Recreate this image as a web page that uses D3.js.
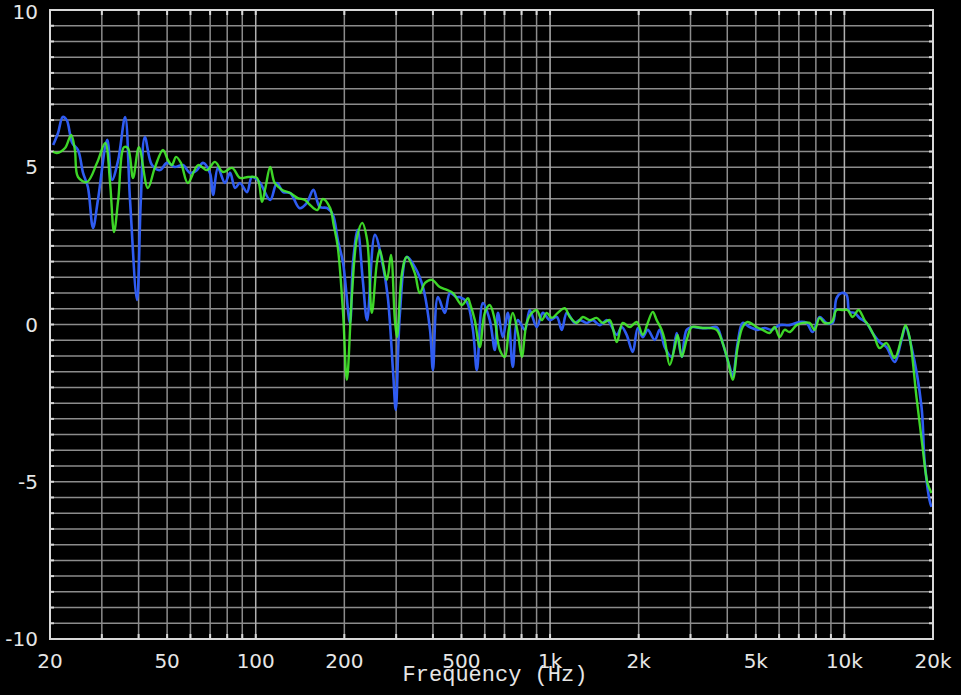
<!DOCTYPE html>
<html>
<head>
<meta charset="utf-8">
<script src="https://cdn.jsdelivr.net/npm/d3@7"></script>
<style>
  html, body { margin: 0; padding: 0; background: #000; }
  svg { display: block; }
</style>
</head>
<body>
<svg id="chart" width="961" height="695"></svg>
<script>
// frequency response, two measurements
var xTickLabels = ['20', '50', '100', '200', '500', '1k', '2k', '5k', '10k', '20k'],
  xTickValues = [20, 50, 100, 200, 500, 1000, 2000, 5000, 10000, 20000],
  yTickValues = [10, 5, 0, -5, -10];

// [Hz, dB]
var blueCurve = [[20.5,5.71],[21.3,6.09],[22.1,6.60],[22.8,6.50],[23.8,5.77],[24.9,5.55],[25.9,4.82],[26.9,4.37],[28.0,3.07],[29.1,3.96],[31.3,5.87],[32.5,4.60],[34.1,5.23],[36.0,6.60],[37.4,3.96],[39.5,0.78],[40.7,3.96],[42.0,5.96],[44.4,5.07],[47.3,4.91],[49.9,5.14],[53.1,5.01],[56.6,5.07],[59.8,4.82],[63.1,4.91],[66.2,5.14],[69.9,4.82],[71.6,4.12],[74.4,4.98],[78.6,4.50],[81.8,4.82],[85.1,4.34],[88.4,4.50],[93.4,4.21],[97.1,4.69],[103,4.53],[112,3.96],[118,4.50],[124,4.21],[131,4.18],[141,3.70],[149,3.86],[157,4.28],[165,3.74],[175,3.70],[183,3.48],[190,2.69],[198,1.96],[209,0.05],[214,1.96],[222,3.01],[231,1.42],[239,0.14],[254,2.85],[271,1.83],[281,0.87],[293,-1.54],[299,-2.72],[309,0.37],[326,2.15],[347,1.83],[370,1.19],[391,-0.17],[400,-1.45],[416,0.87],[439,0.37],[457,1.00],[482,0.87],[494,0.87],[521,0.72],[547,-0.17],[564,-1.45],[591,0.68],[624,0.14],[649,-0.81],[665,0.37],[691,-0.40],[719,0.37],[747,-1.35],[777,0.14],[821,-0.17],[853,0.46],[901,-0.08],[945,0.37],[998,0.14],[1054,0.24],[1096,-0.17],[1140,0.37],[1214,0.05],[1262,0.14],[1332,0.05],[1397,0.14],[1475,-0.02],[1558,0.14],[1595,0.05],[1685,-0.33],[1752,-0.08],[1821,-0.33],[1910,-0.87],[1986,-0.11],[2065,-0.40],[2147,-0.17],[2268,-0.49],[2358,-0.17],[2452,-0.72],[2590,-1.03],[2693,-0.27],[2801,-1.03],[2911,-0.17],[3053,-0.08],[3224,-0.11],[3486,-0.11],[3681,-0.08],[3859,-0.59],[4076,-1.35],[4174,-1.67],[4338,-0.59],[4513,0.05],[4765,-0.08],[5073,-0.17],[5359,-0.11],[5660,-0.17],[6025,-0.02],[6515,-0.02],[7044,0.08],[7438,0.05],[7800,-0.24],[8236,0.24],[8697,0.05],[9120,0.05],[9404,0.84],[9782,1.00],[10169,0.94],[10413,0.40],[10829,0.37],[11260,0.21],[11890,0.05],[12467,-0.27],[13165,-0.56],[13901,-0.72],[14803,-1.19],[15636,-0.49],[16132,-0.08],[16907,-0.72],[18281,-2.62],[18716,-4.31],[19460,-5.58],[19767,-5.80]];

var greenCurve = [[20.5,5.49],[21.1,5.45],[22.5,5.61],[23.6,6.03],[24.3,5.55],[24.9,4.69],[26.7,4.53],[28.9,5.14],[30.8,5.77],[32.0,4.50],[33.0,2.94],[34.1,3.96],[35.7,5.64],[36.8,5.61],[38.3,4.66],[40.1,5.64],[43.0,4.34],[45.4,4.98],[48.4,5.55],[50.3,5.23],[51.9,5.07],[53.6,5.33],[55.7,5.14],[58.8,4.50],[63.7,5.07],[68.3,4.91],[72.7,5.17],[77.4,4.85],[83.1,4.98],[88.4,4.66],[94.1,4.69],[101,4.66],[105,3.90],[108,4.37],[112,5.01],[116,4.50],[123,4.28],[131,4.18],[139,4.02],[147,3.96],[153,3.80],[162,3.64],[169,3.99],[179,3.70],[184,3.16],[190,2.46],[198,0.37],[204,-1.76],[212,0.87],[221,2.78],[230,3.23],[239,2.69],[248,0.37],[258,1.96],[264,2.37],[279,1.42],[288,2.21],[297,0.14],[302,-0.40],[314,1.64],[326,2.15],[347,1.64],[361,1.00],[376,1.32],[397,1.42],[422,1.19],[446,1.10],[468,1.00],[502,0.62],[526,0.84],[534,0.68],[555,0.14],[577,-0.72],[600,0.37],[624,0.62],[649,0.14],[675,-0.81],[702,-1.03],[724,-0.17],[747,0.37],[777,-0.27],[802,-1.03],[833,0.05],[867,0.37],[901,0.46],[937,0.14],[974,0.37],[1014,0.21],[1062,0.37],[1122,0.52],[1167,0.24],[1232,0.05],[1292,0.24],[1364,0.14],[1440,0.21],[1510,0.05],[1595,0.14],[1685,-0.56],[1766,0.05],[1865,-0.08],[1970,0.08],[2065,-0.33],[2147,0.05],[2233,0.40],[2303,0.14],[2395,-0.17],[2452,-0.49],[2550,-1.29],[2652,-0.72],[2714,-0.33],[2801,-1.03],[2911,-0.49],[3028,-0.08],[3148,-0.08],[3301,-0.11],[3486,-0.11],[3681,-0.17],[3859,-0.59],[4013,-1.13],[4174,-1.76],[4338,-0.72],[4513,-0.08],[4691,0.08],[5032,-0.08],[5277,-0.17],[5572,-0.27],[5794,-0.08],[6025,-0.40],[6265,-0.17],[6515,-0.24],[6879,-0.02],[7213,0.05],[7617,0.05],[7921,-0.17],[8236,0.21],[8565,0.05],[9047,0.08],[9404,0.46],[9861,0.46],[10251,0.46],[10663,0.24],[11172,0.46],[11708,0.14],[12175,-0.08],[12661,-0.40],[13165,-0.75],[13901,-0.59],[14803,-1.07],[15636,-0.43],[16132,-0.02],[16644,-0.40],[17575,-2.31],[18429,-3.90],[19157,-5.04],[19767,-5.36]];

var LEFT = 50, RIGHT = 933, TOP = 10, BOTTOM = 639,
  GRID_COLOR = '#8c8c8c',
  FRAME_COLOR = '#d8d8d8',
  TEXT_COLOR = '#e6e6e6';

var svg = d3.select('#chart');

var x = d3.scaleLog().domain([20, 20000]).range([LEFT, RIGHT]);
var y = d3.scaleLinear().domain([-10, 10]).range([BOTTOM, TOP]);

// gridline positions: 1..9 per decade, 0.5 dB steps
var xGrid = [];
[10, 100, 1000, 10000].forEach(function(dec) {
  for (var m = 1; m <= 9; m++) {
    var v = m * dec;
    if (v > 20 && v < 20000) xGrid.push(v);
  }
});
var yGrid = d3.range(-9.5, 10, 0.5);

var grid = svg.append('g').attr('id', 'grid');

grid.selectAll('line.h')
  .data(yGrid)
  .enter()
  .append('line')
  .attr('class', 'h')
  .attr('x1', LEFT).attr('x2', RIGHT)
  .attr('y1', function(d) { return y(d); })
  .attr('y2', function(d) { return y(d); })
  .attr('stroke', GRID_COLOR)
  .attr('stroke-width', 1.5);

grid.selectAll('line.v')
  .data(xGrid)
  .enter()
  .append('line')
  .attr('class', 'v')
  .attr('y1', TOP).attr('y2', BOTTOM)
  .attr('x1', function(d) { return x(d); })
  .attr('x2', function(d) { return x(d); })
  .attr('stroke', function(d) { return [100, 1000, 10000].indexOf(d) >= 0 ? '#b0b0b0' : GRID_COLOR; })
  .attr('stroke-width', 1.5);

// small ticks on the frame
var ticks = svg.append('g').attr('id', 'ticks');
ticks.selectAll('line.tt')
  .data(xGrid)
  .enter()
  .append('line')
  .attr('x1', function(d) { return x(d); })
  .attr('x2', function(d) { return x(d); })
  .attr('y1', TOP).attr('y2', TOP + 5)
  .attr('stroke', FRAME_COLOR).attr('stroke-width', 2);
ticks.selectAll('line.tb')
  .data(xGrid)
  .enter()
  .append('line')
  .attr('x1', function(d) { return x(d); })
  .attr('x2', function(d) { return x(d); })
  .attr('y1', BOTTOM - 5).attr('y2', BOTTOM)
  .attr('stroke', FRAME_COLOR).attr('stroke-width', 2);
ticks.selectAll('line.tl')
  .data(yGrid)
  .enter()
  .append('line')
  .attr('x1', LEFT).attr('x2', LEFT + 4)
  .attr('y1', function(d) { return y(d); })
  .attr('y2', function(d) { return y(d); })
  .attr('stroke', FRAME_COLOR).attr('stroke-width', 2);
ticks.selectAll('line.tr')
  .data(yGrid)
  .enter()
  .append('line')
  .attr('x1', RIGHT - 4).attr('x2', RIGHT)
  .attr('y1', function(d) { return y(d); })
  .attr('y2', function(d) { return y(d); })
  .attr('stroke', FRAME_COLOR).attr('stroke-width', 2);

// curves
var line = d3.line()
  .x(function(d) { return x(d[0]); })
  .y(function(d) { return y(d[1]); })
  .curve(d3.curveCatmullRom.alpha(0.5));

svg.append('defs').append('clipPath').attr('id', 'plotClip')
  .append('rect')
  .attr('x', LEFT).attr('y', TOP)
  .attr('width', RIGHT - LEFT).attr('height', BOTTOM - TOP);

var curves = svg.append('g').attr('clip-path', 'url(#plotClip)');

curves.append('path')
  .datum(blueCurve)
  .attr('d', line)
  .attr('fill', 'none')
  .attr('stroke', '#2f5cf2')
  .attr('stroke-width', 2.6)
  .attr('stroke-linejoin', 'round');

curves.append('path')
  .datum(greenCurve)
  .attr('d', line)
  .attr('fill', 'none')
  .attr('stroke', '#46f22c')
  .attr('stroke-width', 2.4)
  .attr('stroke-opacity', 0.88)
  .attr('stroke-linejoin', 'round');

// frame
svg.append('rect')
  .attr('x', LEFT).attr('y', TOP)
  .attr('width', RIGHT - LEFT).attr('height', BOTTOM - TOP)
  .attr('fill', 'none')
  .attr('stroke', FRAME_COLOR)
  .attr('stroke-width', 2);

// labels
svg.append('g')
  .selectAll('text')
  .data(yTickValues)
  .enter()
  .append('text')
  .attr('x', 38)
  .attr('y', function(d) { return d === 10 ? y(d) + 2 : y(d); })
  .attr('dy', '0.36em')
  .style('text-anchor', 'end')
  .style('font-family', 'DejaVu Sans, sans-serif')
  .style('font-size', '20px')
  .attr('fill', TEXT_COLOR)
  .text(function(d) { return d; });

svg.append('g')
  .selectAll('text')
  .data(xTickValues)
  .enter()
  .append('text')
  .attr('x', function(d) { return x(d); })
  .attr('y', 668)
  .style('text-anchor', 'middle')
  .style('font-family', 'DejaVu Sans, sans-serif')
  .style('font-size', '20px')
  .attr('fill', TEXT_COLOR)
  .text(function(d, i) { return xTickLabels[i]; });

svg.append('text')
  .attr('x', 495)
  .attr('y', 681)
  .style('text-anchor', 'middle')
  .style('font-family', 'Liberation Mono, monospace')
  .style('font-size', '22px')
  .attr('fill', TEXT_COLOR)
  .text('Frequency (Hz)');
</script>
</body>
</html>
